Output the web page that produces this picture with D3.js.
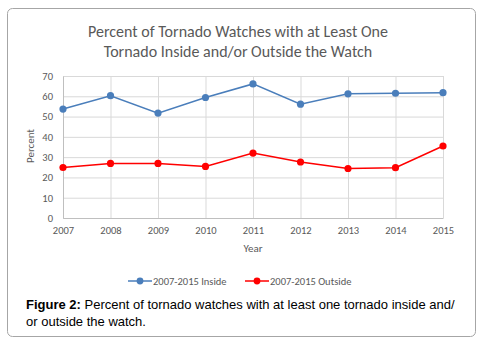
<!DOCTYPE html>
<html>
<head>
<meta charset="utf-8">
<script src="https://cdn.jsdelivr.net/npm/d3@7"></script>
<style>
  html, body { margin: 0; padding: 0; background: #fff; }
  svg { display: block; }
</style>
</head>
<body>
<svg id="chart" width="491" height="347"></svg>
<script>
const years = [2007, 2008, 2009, 2010, 2011, 2012, 2013, 2014, 2015];
const insideValues = [53.7, 60.3, 51.7, 59.4, 66.1, 56.1, 61.2, 61.5, 61.8];
const outsideValues = [24.9, 26.9, 26.9, 25.4, 32.0, 27.6, 24.4, 24.8, 35.5];
const yTicks = [0, 10, 20, 30, 40, 50, 60, 70];
const titleLines = [
  "Percent of Tornado Watches with at Least One",
  "Tornado Inside and/or Outside the Watch",
];
const seriesNames = ["2007-2015 Inside", "2007-2015 Outside"];
const seriesColors = ["#4a7ebb", "#ff0000"];

const font = "Carlito, 'Open Sans', 'Noto Sans', sans-serif";
const textGray = "#595959";
const margin = { left: 63, top: 76, right: 48, bottom: 129 };
const width = 491;
const height = 347;
const chartWidth = width - margin.left - margin.right;
const chartHeight = height - margin.top - margin.bottom;

const svg = d3.select("#chart");

// outer frame
svg.append("rect")
  .attr("x", 7.5).attr("y", 8.5)
  .attr("width", 468).attr("height", 328)
  .attr("rx", 5)
  .attr("fill", "#fff")
  .attr("stroke", "#a6a6a6")
  .attr("stroke-width", 1);

// title
svg.append("g")
  .selectAll("text")
  .data(titleLines)
  .join("text")
  .attr("x", 238)
  .attr("y", (d, i) => 37 + i * 20)
  .attr("text-anchor", "middle")
  .attr("font-family", font)
  .attr("font-size", 16)
  .attr("fill", textGray)
  .text((d) => d);

const chart = svg.append("g")
  .attr("transform", `translate(${margin.left},${margin.top})`);

const x = d3.scalePoint().domain(years).range([0, chartWidth]);
const y = d3.scaleLinear().domain([0, 70]).range([chartHeight, 0]);

// grid
chart.append("g")
  .attr("class", "grid y-grid")
  .call(d3.axisLeft(y).tickValues(yTicks).tickSize(-chartWidth).tickFormat(""))
  .call((g) => g.select(".domain").remove())
  .call((g) => g.selectAll(".tick line").attr("stroke", "#d9d9d9"));

chart.append("g")
  .attr("class", "grid x-grid")
  .call(d3.axisTop(x).tickSize(-chartHeight).tickFormat(""))
  .call((g) => g.select(".domain").remove())
  .call((g) => g.selectAll(".tick line").attr("stroke", "#d9d9d9"));

// axes
const xAxisG = chart.append("g")
  .attr("class", "x-axis")
  .attr("transform", `translate(0,${chartHeight})`)
  .call(d3.axisBottom(x).tickSize(0).tickPadding(9));
xAxisG.select(".domain").attr("stroke", "#bfbfbf");
xAxisG.selectAll("text")
  .attr("font-family", font).attr("font-size", 10.5).attr("fill", textGray);

const yAxisG = chart.append("g")
  .attr("class", "y-axis")
  .call(d3.axisLeft(y).tickValues(yTicks).tickSize(0).tickPadding(10));
yAxisG.select(".domain").attr("stroke", "#bfbfbf");
yAxisG.selectAll("text")
  .attr("font-family", font).attr("font-size", 10.5).attr("fill", textGray);

// axis titles
chart.append("text")
  .attr("x", chartWidth / 2)
  .attr("y", chartHeight + 34)
  .attr("text-anchor", "middle")
  .attr("font-family", font).attr("font-size", 11).attr("fill", textGray)
  .text("Year");

chart.append("text")
  .attr("transform", `translate(-29,${chartHeight / 2 - 1}) rotate(-90)`)
  .attr("text-anchor", "middle")
  .attr("font-family", font).attr("font-size", 11).attr("fill", textGray)
  .text("Percent");

// series
const series = [insideValues, outsideValues].map((vals, i) => ({
  name: seriesNames[i],
  color: seriesColors[i],
  points: years.map((yr, j) => ({ year: yr, value: vals[j] })),
}));

const line = d3.line().x((d) => x(d.year)).y((d) => y(d.value));

series.forEach((s) => {
  chart.append("path")
    .datum(s.points)
    .attr("fill", "none")
    .attr("stroke", s.color)
    .attr("stroke-width", 1.5)
    .attr("d", line);
  chart.append("g")
    .selectAll("circle")
    .data(s.points)
    .join("circle")
    .attr("cx", (d) => x(d.year))
    .attr("cy", (d) => y(d.value))
    .attr("r", 3.6)
    .attr("fill", s.color);
});

// legend
const legendX = [128, 245];
const legend = svg.append("g").attr("transform", "translate(0,281)");
series.forEach((s, i) => {
  const g = legend.append("g").attr("transform", `translate(${legendX[i]},0)`);
  g.append("line")
    .attr("x1", 0).attr("x2", 24).attr("y1", 0).attr("y2", 0)
    .attr("stroke", s.color).attr("stroke-width", 1.5);
  g.append("circle").attr("cx", 12).attr("cy", 0).attr("r", 3.4).attr("fill", s.color);
  g.append("text")
    .attr("x", 25).attr("y", 3.5)
    .attr("font-family", font).attr("font-size", 10.5).attr("fill", textGray)
    .text(s.name);
});

// caption
const caption = svg.append("g")
  .attr("font-family", "'Liberation Sans', Arial, sans-serif")
  .attr("font-size", 13)
  .attr("fill", "#000");
const cap1 = caption.append("text").attr("x", 26).attr("y", 309);
cap1.append("tspan").attr("font-weight", "bold").text("Figure 2:");
cap1.append("tspan").text(" Percent of tornado watches with at least one tornado inside and/");
caption.append("text").attr("x", 26).attr("y", 326).text("or outside the watch.");
</script>
</body>
</html>
